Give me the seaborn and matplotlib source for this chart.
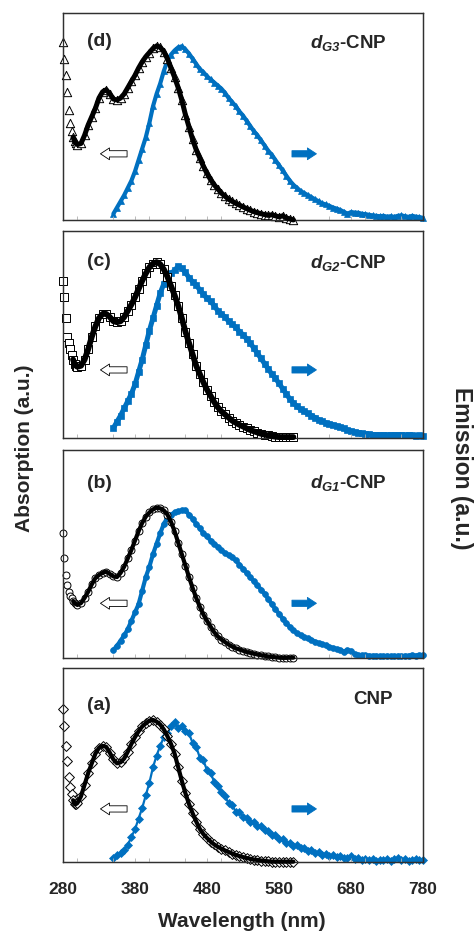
import matplotlib
matplotlib.use("Agg")
import matplotlib.pyplot as plt
from matplotlib.ticker import MultipleLocator
import pandas as pd
import seaborn as sns

# ---------------------------------------------------------------- data
# Absorption sampled every 2 nm on the steep UV edge, then every 5 nm.
WAVELENGTH_ABS = list(range(280, 300, 2)) + list(range(300, 601, 5))
WAVELENGTH_EM = list(range(350, 781, 5))

ABS_D = [0.86, 0.78, 0.70, 0.62, 0.53, 0.47, 0.43, 0.40, 0.38, 0.37,
         0.365, 0.37, 0.41, 0.46, 0.50, 0.54, 0.59, 0.62, 0.63, 0.61,
         0.585, 0.58, 0.59, 0.61, 0.64, 0.67, 0.70, 0.735, 0.765, 0.79,
         0.81, 0.83, 0.842, 0.835, 0.815, 0.78, 0.735, 0.69, 0.64, 0.58,
         0.51, 0.45, 0.39, 0.34, 0.30, 0.26, 0.225, 0.195, 0.17, 0.15,
         0.13, 0.115, 0.10, 0.09, 0.08, 0.072, 0.063, 0.055, 0.047, 0.04,
         0.035, 0.03, 0.026, 0.022, 0.025, 0.02, 0.015, 0.02, 0.01, 0.005,
         0.0]
ABS_C = [0.76, 0.68, 0.58, 0.49, 0.46, 0.43, 0.40, 0.38, 0.36, 0.35,
         0.345, 0.35, 0.38, 0.43, 0.49, 0.54, 0.58, 0.60, 0.60, 0.585,
         0.565, 0.56, 0.565, 0.585, 0.615, 0.645, 0.68, 0.72, 0.76, 0.795,
         0.825, 0.843, 0.85, 0.84, 0.815, 0.78, 0.735, 0.69, 0.64, 0.58,
         0.515, 0.46, 0.405, 0.35, 0.31, 0.27, 0.235, 0.205, 0.175, 0.15,
         0.13, 0.115, 0.10, 0.085, 0.075, 0.065, 0.057, 0.048, 0.04, 0.034,
         0.028, 0.022, 0.018, 0.014, 0.011, 0.008, 0.006, 0.006, 0.006, 0.006,
         0.006]
ABS_B = [0.60, 0.48, 0.40, 0.35, 0.32, 0.30, 0.29, 0.275, 0.265, 0.26,
         0.256, 0.265, 0.29, 0.32, 0.355, 0.385, 0.40, 0.41, 0.416, 0.405,
         0.393, 0.39, 0.41, 0.44, 0.48, 0.52, 0.565, 0.61, 0.65, 0.68,
         0.70, 0.715, 0.723, 0.72, 0.71, 0.69, 0.655, 0.61, 0.555, 0.50,
         0.445, 0.39, 0.338, 0.29, 0.248, 0.21, 0.18, 0.152, 0.125, 0.105,
         0.09, 0.078, 0.066, 0.056, 0.048, 0.042, 0.036, 0.03, 0.026, 0.022,
         0.018, 0.015, 0.012, 0.009, 0.007, 0.005, 0.003, 0.002, 0.002, 0.003,
         0.003]
ABS_A = [0.79, 0.70, 0.60, 0.52, 0.44, 0.39, 0.35, 0.32, 0.30, 0.30,
         0.305, 0.34, 0.40, 0.46, 0.51, 0.56, 0.59, 0.60, 0.595, 0.565,
         0.53, 0.51, 0.515, 0.535, 0.57, 0.61, 0.645, 0.675, 0.70, 0.716,
         0.73, 0.734, 0.725, 0.71, 0.685, 0.65, 0.61, 0.56, 0.49, 0.42,
         0.356, 0.30, 0.253, 0.21, 0.172, 0.145, 0.125, 0.107, 0.092, 0.08,
         0.07, 0.061, 0.053, 0.045, 0.038, 0.032, 0.027, 0.022, 0.018, 0.014,
         0.012, 0.009, 0.007, 0.005, 0.003, 0.003, 0.003, 0.003, 0.003, 0.003,
         0.003]

EM_D = [0.03, 0.06, 0.09, 0.12, 0.155, 0.19, 0.235, 0.29, 0.345, 0.40,
        0.47, 0.55, 0.61, 0.66, 0.72, 0.77, 0.80, 0.82, 0.835, 0.84,
        0.825, 0.805, 0.78, 0.755, 0.73, 0.715, 0.695, 0.68, 0.665, 0.65,
        0.635, 0.615, 0.59, 0.57, 0.55, 0.525, 0.505, 0.48, 0.455, 0.43,
        0.41, 0.385, 0.36, 0.335, 0.315, 0.29, 0.265, 0.24, 0.215, 0.19,
        0.17, 0.155, 0.14, 0.13, 0.12, 0.11, 0.10, 0.09, 0.08, 0.075,
        0.068, 0.06, 0.055, 0.048, 0.04, 0.03, 0.038, 0.036, 0.035, 0.03,
        0.028, 0.025, 0.022, 0.02, 0.018, 0.02, 0.016, 0.018, 0.015, 0.02,
        0.022, 0.018, 0.015, 0.02, 0.016, 0.014, 0.01]
EM_C = [0.05, 0.08, 0.11, 0.145, 0.18, 0.215, 0.26, 0.32, 0.38, 0.45,
        0.52, 0.58, 0.64, 0.70, 0.745, 0.775, 0.795, 0.81, 0.83, 0.82,
        0.80, 0.775, 0.755, 0.74, 0.715, 0.695, 0.675, 0.66, 0.64, 0.615,
        0.60, 0.585, 0.565, 0.55, 0.535, 0.515, 0.50, 0.48, 0.46, 0.435,
        0.41, 0.385, 0.36, 0.335, 0.31, 0.29, 0.265, 0.24, 0.215, 0.19,
        0.17, 0.155, 0.14, 0.13, 0.12, 0.11, 0.10, 0.09, 0.082, 0.075,
        0.07, 0.065, 0.06, 0.055, 0.048, 0.04, 0.035, 0.03, 0.028, 0.024,
        0.02, 0.02, 0.018, 0.017, 0.016, 0.016, 0.016, 0.015, 0.016, 0.016,
        0.015, 0.014, 0.015, 0.014, 0.013, 0.014, 0.013]
EM_B = [0.04, 0.06, 0.085, 0.11, 0.14, 0.18, 0.22, 0.26, 0.325, 0.39,
        0.44, 0.50, 0.55, 0.60, 0.645, 0.675, 0.69, 0.70, 0.705, 0.71,
        0.71, 0.69, 0.67, 0.645, 0.625, 0.60, 0.585, 0.565, 0.55, 0.535,
        0.52, 0.505, 0.495, 0.485, 0.47, 0.45, 0.43, 0.41, 0.39, 0.37,
        0.35, 0.33, 0.31, 0.285, 0.26, 0.235, 0.215, 0.19, 0.17, 0.15,
        0.135, 0.12, 0.11, 0.10, 0.095, 0.088, 0.08, 0.074, 0.068, 0.062,
        0.055, 0.05, 0.045, 0.04, 0.032, 0.04, 0.035, 0.02, 0.016, 0.015,
        0.014, 0.013, 0.012, 0.012, 0.011, 0.011, 0.012, 0.011, 0.011, 0.012,
        0.011, 0.012, 0.013, 0.014, 0.013, 0.015, 0.016]
EM_A = [0.02, 0.035, 0.05, 0.065, 0.09, 0.13, 0.17, 0.225, 0.28, 0.345,
        0.41, 0.49, 0.55, 0.60, 0.645, 0.665, 0.70, 0.725, 0.69, 0.705,
        0.675, 0.665, 0.615, 0.595, 0.54, 0.525, 0.475, 0.46, 0.415, 0.395,
        0.36, 0.34, 0.305, 0.295, 0.26, 0.26, 0.235, 0.23, 0.21, 0.21,
        0.185, 0.185, 0.165, 0.16, 0.14, 0.14, 0.12, 0.12, 0.10, 0.10,
        0.085, 0.09, 0.072, 0.075, 0.06, 0.062, 0.048, 0.052, 0.04, 0.045,
        0.032, 0.036, 0.027, 0.032, 0.022, 0.024, 0.03, 0.016, 0.02, 0.012,
        0.016, 0.01, 0.015, 0.008, 0.014, 0.01, 0.016, 0.009, 0.015, 0.02,
        0.01, 0.016, 0.009, 0.014, 0.019, 0.011, 0.013]

PANEL_TAGS = ["(d)", "(c)", "(b)", "(a)"]
SAMPLE_NAMES = [r"$d_{G3}$-CNP", r"$d_{G2}$-CNP", r"$d_{G1}$-CNP", "CNP"]
ABSORPTION = [ABS_D, ABS_C, ABS_B, ABS_A]
EMISSION = [EM_D, EM_C, EM_B, EM_A]
X_TICKS = [280, 380, 480, 580, 680, 780]

# ---------------------------------------------------------------- style
sns.set_style("white")
plt.rcParams["font.family"] = ["Liberation Sans", "DejaVu Sans"]
plt.rcParams["mathtext.fontset"] = "custom"
plt.rcParams["mathtext.it"] = "Liberation Sans:italic:bold"
plt.rcParams["mathtext.rm"] = "Liberation Sans:italic:bold"
plt.rcParams["mathtext.bf"] = "Liberation Sans:italic:bold"

BLUE = "#0070C0"
MARKERS = ["^", "s", "o", "D"]
ABS_MS = [6.0, 5.5, 5.0, 5.0]
ABS_LW = [3.6, 4.2, 3.0, 3.0]
EM_MS = [4.5, 4.5, 4.2, 4.0]
EM_LW = [3.0, 3.6, 3.0, 1.6]
ARROW_Y = [0.32, 0.33, 0.264, 0.275]
TAG_Y = [0.865, 0.852, 0.84, 0.81]
NAME_Y = [0.855, 0.845, 0.84, 0.837]
NAME_X = [730, 730, 730, 738]

# axes rectangles (left, bottom, width, height), top panel first
RECTS = [
    [0.1329, 0.7645, 0.7595, 0.2213],
    [0.1329, 0.5307, 0.7595, 0.2220],
    [0.1329, 0.2952, 0.7595, 0.2230],
    [0.1329, 0.0768, 0.7595, 0.2077],
]

fig = plt.figure(figsize=(4.74, 9.34), dpi=100)

for i in range(4):
    ax = fig.add_axes(RECTS[i])
    ax_em = ax.twinx()

    abs_df = pd.DataFrame({"wavelength": WAVELENGTH_ABS, "absorbance": ABSORPTION[i]})
    em_df = pd.DataFrame({"wavelength": WAVELENGTH_EM, "intensity": EMISSION[i]})

    # emission on the right-hand axis (filled blue markers)
    sns.lineplot(data=em_df, x="wavelength", y="intensity", ax=ax_em,
                 color=BLUE, linewidth=EM_LW[i], marker=MARKERS[i],
                 markersize=EM_MS[i], markerfacecolor=BLUE,
                 markeredgecolor=BLUE, markeredgewidth=0.5, clip_on=False)

    # absorption on the left-hand axis: hollow black markers, dense trace
    sns.scatterplot(data=abs_df, x="wavelength", y="absorbance", ax=ax,
                    marker=MARKERS[i], s=ABS_MS[i] ** 2, facecolor="white",
                    edgecolor="black", linewidth=0.7, clip_on=False, zorder=2)
    dense = abs_df[abs_df["wavelength"] >= 294]
    sns.lineplot(data=dense, x="wavelength", y="absorbance", ax=ax,
                 color="black", linewidth=ABS_LW[i], clip_on=False, zorder=3)

    # keep absorption drawn above emission
    ax.set_zorder(ax_em.get_zorder() + 1)
    ax.patch.set_visible(False)

    for a in (ax, ax_em):
        a.set_xlim(280, 780)
        a.set_ylim(0, 1)
        a.set_yticks([])
        a.set_ylabel("")
        a.set_xlabel("")
        for s in a.spines.values():
            s.set_color("#303030")
            s.set_linewidth(0.9)

    ax.set_xticks(X_TICKS)
    ax.xaxis.set_minor_locator(MultipleLocator(50))
    ax.tick_params(axis="x", which="both", direction="in", length=3,
                   color="#b0b0b0", width=0.6, bottom=True, pad=14)
    if i < 3:
        ax.set_xticklabels([])
    else:
        ax.set_xticklabels([str(t) for t in X_TICKS], fontsize=12.5,
                           fontweight="bold")

    # direction arrows: absorption -> left axis, emission -> right axis
    ax.annotate("", xy=(332, ARROW_Y[i]), xytext=(369, ARROW_Y[i]),
                arrowprops=dict(arrowstyle="simple,head_length=0.65,head_width=0.85,tail_width=0.45",
                                fc="white", ec="black", lw=0.6,
                                shrinkA=0, shrinkB=0, mutation_scale=10))
    ax.annotate("", xy=(632, ARROW_Y[i]), xytext=(598, ARROW_Y[i]),
                arrowprops=dict(arrowstyle="simple,head_length=0.65,head_width=0.85,tail_width=0.45",
                                fc=BLUE, ec=BLUE, lw=0.6,
                                shrinkA=0, shrinkB=0, mutation_scale=10))

    ax.text(313, TAG_Y[i], PANEL_TAGS[i], ha="left", va="center",
            fontsize=14, fontweight="bold")
    ax.text(NAME_X[i], NAME_Y[i], SAMPLE_NAMES[i], ha="right", va="center",
            fontsize=13.5, fontweight="bold")

fig.text(0.511, 0.0139, "Wavelength (nm)", ha="center", va="center",
         fontsize=15, fontweight="bold")
fig.text(25 / 474, 1 - 448 / 934, "Absorption (a.u.)", rotation=90,
         ha="center", va="center", fontsize=15, fontweight="bold")
fig.text(461 / 474, 1 - 468 / 934, "Emission (a.u.)", rotation=-90,
         ha="center", va="center", fontsize=16.5, fontweight="bold")

fig.savefig("out.png", dpi=100)
